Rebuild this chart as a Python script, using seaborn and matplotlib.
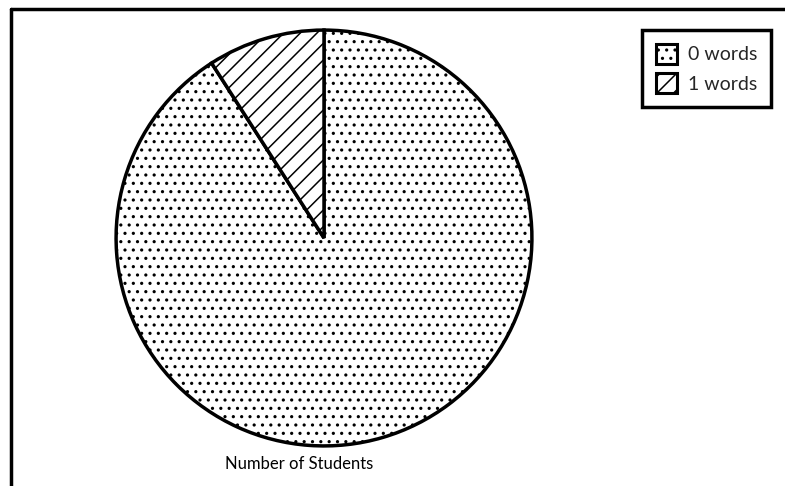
import matplotlib
matplotlib.use("Agg")
import matplotlib.pyplot as plt
import seaborn as sns
from matplotlib.lines import Line2D
from matplotlib.patches import Patch

categories = ["0 words", "1 words"]
students = [10, 1]
hatches = ["..", "//"]
xlabel = "Number of Students"

sns.set_theme(style="white")
plt.rcParams["font.family"] = ["Lato", "DejaVu Sans"]
plt.rcParams["hatch.linewidth"] = 1.1
plt.rcParams["hatch.color"] = "black"

W, H = 785, 486
fig = plt.figure(figsize=(W / 100, H / 100), dpi=100)
cx, cy, r = 324, 238, 210
ax = fig.add_axes([(cx - r) / W, (H - cy - r) / H, 2 * r / W, 2 * r / H])

wedges, _ = ax.pie(students, startangle=90, counterclock=False,
                   colors=["white", "white"],
                   wedgeprops=dict(edgecolor="black", linewidth=2.5))
for w, h in zip(wedges, hatches):
    w.set_hatch(h)
ax.set_xlim(-1.01, 1.01)
ax.set_ylim(-1.01, 1.01)
ax.set_aspect("equal")
ax.axis("off")

fig.text(299 / W, 1 - 464 / H, xlabel, ha="center", va="center", fontsize=12, color="black")

handles = [Patch(facecolor="white", edgecolor="black", hatch=h, linewidth=2.2) for h in hatches]
leg = fig.legend(handles, categories, loc="upper right",
                 bbox_to_anchor=(771 / W, 1 - 30 / H), frameon=True, fancybox=False,
                 framealpha=1, fontsize=14, handlelength=1.1, handleheight=1.25,
                 handletextpad=0.55, borderpad=0.7, labelspacing=0.45, borderaxespad=0)
leg.get_frame().set_edgecolor("black")
leg.get_frame().set_linewidth(2.5)

fig.add_artist(Line2D([11 / W, 11 / W], [0, 1 - 9 / H], transform=fig.transFigure, color="black", lw=2.5))
fig.add_artist(Line2D([11 / W, 1], [1 - 9 / H, 1 - 9 / H], transform=fig.transFigure, color="black", lw=2.5))

fig.savefig("out.png", dpi=100, facecolor="white")
